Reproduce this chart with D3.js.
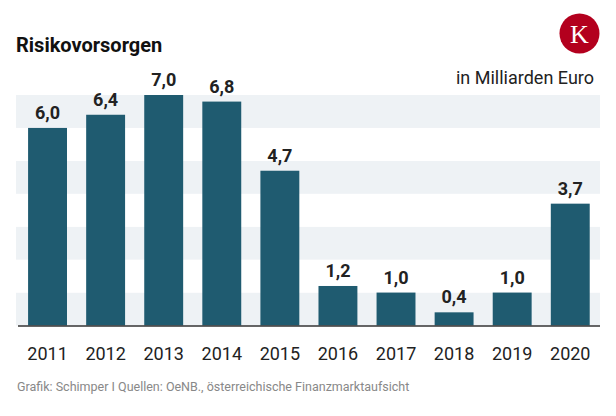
<!DOCTYPE html>
<html>
<head>
<meta charset="utf-8">
<script src="https://cdn.jsdelivr.net/npm/d3@7"></script>
<style>
  html, body { margin: 0; padding: 0; background: #fff; }
  svg { display: block; }
  text { font-family: Roboto, "Noto Sans", sans-serif; }
  text.serif { font-family: "Liberation Serif", "DejaVu Serif", serif; }
</style>
</head>
<body>
<svg id="chart" width="616" height="416"></svg>
<script>
const years = ["2011","2012","2013","2014","2015","2016","2017","2018","2019","2020"];
const values = [6.0, 6.4, 7.0, 6.8, 4.7, 1.2, 1.0, 0.4, 1.0, 3.7];
const bandTicks = [0, 1, 2, 3, 4, 5, 6];
const title = "Risikovorsorgen";
const unit = "in Milliarden Euro";
const source = "Grafik: Schimper I Quellen: OeNB., österreichische Finanzmarktaufsicht";

const svg = d3.select("#chart");
const plot = { left: 16, right: 600, top: 95, bottom: 325.5 };

const x = d3.scaleBand().domain(years).range([18.5, 599.3]).paddingInner(0.33).paddingOuter(0.165);
const y = d3.scaleLinear().domain([0, 7]).range([plot.bottom, plot.top]);

// alternating bands
svg.append("g").selectAll("rect").data(bandTicks).join("rect")
  .attr("x", plot.left)
  .attr("width", plot.right - plot.left)
  .attr("y", d => y(d + 1))
  .attr("height", d => y(d) - y(d + 1))
  .attr("fill", d => d % 2 === 0 ? "#eef2f5" : "#ffffff");

// bars
svg.append("g").selectAll("rect").data(values).join("rect")
  .attr("x", (d, i) => x(years[i]))
  .attr("width", x.bandwidth())
  .attr("y", d => y(d))
  .attr("height", d => y(0) - y(d))
  .attr("fill", "#1f5b70");

// value labels
svg.append("g").selectAll("text").data(values).join("text")
  .attr("x", (d, i) => x(years[i]) + x.bandwidth() / 2)
  .attr("y", d => y(d) - 9)
  .attr("text-anchor", "middle")
  .attr("font-size", 18)
  .attr("font-weight", 700)
  .attr("fill", "#222")
  .text(d => d.toFixed(1).replace(".", ","));

// x axis
const xAxis = d3.axisBottom(x).tickSize(0).tickPadding(0);
const gx = svg.append("g").attr("transform", `translate(0,${y(0)})`).call(xAxis);
gx.attr("font-family", null);
gx.select(".domain").attr("d", `M18,0.5H600`).attr("stroke", "#333").attr("stroke-width", 1.5);
gx.selectAll(".tick text")
  .attr("y", 34.5).attr("dy", 0)
  .attr("font-size", 18)
  .attr("fill", "#222");

// title
svg.append("text").attr("x", 16).attr("y", 52)
  .attr("font-size", 20).attr("font-weight", 700).attr("fill", "#111")
  .text(title);

// unit
svg.append("text").attr("x", 594).attr("y", 84)
  .attr("text-anchor", "end")
  .attr("font-size", 18).attr("fill", "#222")
  .text(unit);

// logo
const logo = svg.append("g").attr("transform", "translate(579.5,33.5)");
logo.append("circle").attr("r", 20).attr("fill", "#b3001e");
logo.append("text").attr("class", "serif").attr("y", 9).attr("text-anchor", "middle")
  .attr("font-size", 26).attr("fill", "#fff").text("K");

// source
svg.append("text").attr("x", 17).attr("y", 391)
  .attr("font-size", 12.5).attr("fill", "#888")
  .text(source);
</script>
</body>
</html>
